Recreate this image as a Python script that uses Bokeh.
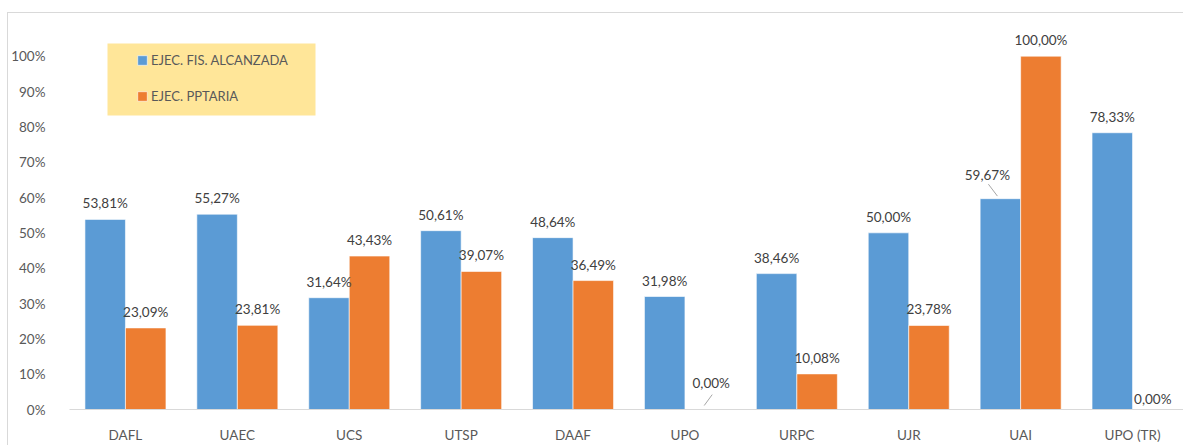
import numpy as np
from bokeh.plotting import figure
from bokeh.models import (Range1d, FixedTicker, Legend, LegendItem, BoxAnnotation,
                          ColumnDataSource)
from bokeh.core.properties import value
from bokeh.embed import file_html
from bokeh.resources import INLINE

# ---------------- data ----------------
categories = ["DAFL", "UAEC", "UCS", "UTSP", "DAAF", "UPO", "URPC", "UJR", "UAI", "UPO (TR)"]
ejec_fis = [53.81, 55.27, 31.64, 50.61, 48.64, 31.98, 38.46, 50.00, 59.67, 78.33]
ejec_ppt = [23.09, 23.81, 43.43, 39.07, 36.49, 0.00, 10.08, 23.78, 100.00, 0.00]
series_names = ["EJEC. FIS. ALCANZADA", "EJEC. PPTARIA"]
y_ticks = [0, 10, 20, 30, 40, 50, 60, 70, 80, 90, 100]

# ---------------- style ----------------
BLUE = "#5B9BD5"
ORANGE = "#ED7D31"
LEGEND_BG = "#FFE699"
AXIS_TXT = "#595959"
LABEL_TXT = "#404040"
BORDER = "#D9D9D9"
FONT = "Lato"
FS = "13.5px"

W, H = 1183, 445
MB_LEFT, MB_RIGHT, MB_TOP, MB_BOTTOM = 69, 0, 13, 33
frame_w = W - MB_LEFT - MB_RIGHT
frame_h = H - MB_TOP - MB_BOTTOM
px_per_cat = 111.9
px_per_pct = 3.56
x_end = frame_w / px_per_cat
y_end = frame_h / px_per_pct
dx = x_end / frame_w   # data units per pixel (x)
dy = y_end / frame_h   # data units per pixel (y)

bar_w = 0.362
n = len(categories)
centers = np.arange(n) + 0.5
x_fis = centers - bar_w / 2
x_ppt = centers + bar_w / 2

p = figure(width=W, height=H, output_backend="svg", toolbar_location=None,
           x_range=Range1d(0, x_end), y_range=Range1d(0, y_end),
           min_border_left=MB_LEFT, min_border_right=MB_RIGHT,
           min_border_top=MB_TOP, min_border_bottom=MB_BOTTOM)
p.outline_line_color = None
p.xgrid.visible = False
p.ygrid.visible = False
p.background_fill_color = "white"
p.border_fill_color = None
# outer chart-area border (top and left edges visible), drawn as host background
p.styles = {
    "background": (f"linear-gradient({BORDER},{BORDER}) no-repeat 7px 12px / 1px 100%, "
                   f"linear-gradient({BORDER},{BORDER}) no-repeat 7px 12px / 100% 1px, "
                   "white"),
}

# legend background box
p.add_layout(BoxAnnotation(left=38, right=246, top=366, bottom=294,
                           left_units="screen", right_units="screen",
                           top_units="screen", bottom_units="screen",
                           fill_color=LEGEND_BG, fill_alpha=1.0, line_color=None,
                           level="underlay"))

src = ColumnDataSource(dict(cat=categories, x_fis=x_fis, x_ppt=x_ppt,
                            fis=ejec_fis, ppt=ejec_ppt))
r_fis = p.vbar(x="x_fis", top="fis", width=bar_w, source=src,
               fill_color=BLUE, line_color="white", line_width=0.6)
r_ppt = p.vbar(x="x_ppt", top="ppt", width=bar_w, source=src,
               fill_color=ORANGE, line_color="white", line_width=0.6)

def fmt(v):
    return f"{v:.2f}".replace(".", ",") + "%"

# label nudges (pixels) for labels moved away from their default spot
nudges = {("fis", "UAI"): (-13, -8), ("ppt", "UPO"): (6, -11), ("ppt", "UPO (TR)"): (0, 5)}

lx, ly, lt, xo, yo = [], [], [], [], []
for key, xs, vals in (("fis", x_fis, ejec_fis), ("ppt", x_ppt, ejec_ppt)):
    for c, xv, v in zip(categories, xs, vals):
        ndx, ndy = nudges.get((key, c), (0, 0))
        lx.append(xv); ly.append(v); lt.append(fmt(v))
        xo.append(ndx); yo.append(-16 + ndy)
p.text(x=lx, y=ly, text=lt, x_offset=xo, y_offset=yo,
       text_align="center", text_baseline="middle",
       text_font=value(FONT), text_font_size=FS, text_color=LABEL_TXT)

# leader lines for moved labels
leaders = [("fis", "UAI", (-3, 2.6), (-12, 14.6)), ("ppt", "UPO", (-1, 4), (7, 15))]
sx0, sy0, sx1, sy1 = [], [], [], []
for key, c, (ax, ay), (bx, by) in leaders:
    i = categories.index(c)
    xv = x_fis[i] if key == "fis" else x_ppt[i]
    v = ejec_fis[i] if key == "fis" else ejec_ppt[i]
    sx0.append(xv + ax * dx); sy0.append(v + ay * dy)
    sx1.append(xv + bx * dx); sy1.append(v + by * dy)
p.segment(x0=sx0, y0=sy0, x1=sx1, y1=sy1, line_color="#A6A6A6", line_width=1)

# axes
xa = p.xaxis[0]
xa.ticker = FixedTicker(ticks=list(centers))
xa.major_label_overrides = {float(c): name for c, name in zip(centers, categories)}
xa.major_tick_in = 0
xa.major_tick_out = 0
xa.minor_tick_in = 0
xa.minor_tick_out = 0
xa.axis_line_color = BORDER
xa.axis_line_width = 1
xa.major_label_standoff = 17
xa.major_label_text_font = FONT
xa.major_label_text_font_size = FS
xa.major_label_text_color = AXIS_TXT

ya = p.yaxis[0]
ya.ticker = FixedTicker(ticks=y_ticks)
ya.major_label_overrides = {t: f"{t}%" for t in y_ticks}
ya.axis_line_color = None
ya.major_tick_in = 0
ya.major_tick_out = 0
ya.minor_tick_in = 0
ya.minor_tick_out = 0
ya.major_label_standoff = 24
ya.major_label_text_font = FONT
ya.major_label_text_font_size = FS
ya.major_label_text_color = AXIS_TXT

legend = Legend(items=[LegendItem(label=series_names[0], renderers=[r_fis]),
                       LegendItem(label=series_names[1], renderers=[r_ppt])],
                location=(67, 303), orientation="vertical",
                padding=0, margin=0, spacing=16,
                glyph_width=12, glyph_height=12, label_height=20,
                label_standoff=3,
                background_fill_alpha=0, border_line_color=None,
                label_text_font=FONT, label_text_font_size="13px",
                label_text_color=AXIS_TXT)
p.add_layout(legend, "center")

open("out.html", "w").write(file_html(p, INLINE))
